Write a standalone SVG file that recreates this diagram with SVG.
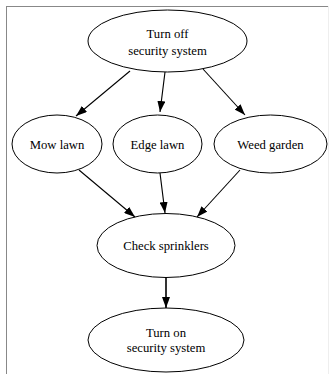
<svg xmlns="http://www.w3.org/2000/svg" width="329" height="374" viewBox="0 0 329 374">
<defs>
<style>
.node ellipse{fill:none;stroke:#000;stroke-width:1}
.node text{font-family:"Liberation Serif","Times New Roman",serif;font-size:12.7px;fill:#000;text-anchor:middle}
.edges line{stroke:#000;stroke-width:1.1}
</style>
<marker id="arr" viewBox="0 0 11 8" refX="11" refY="4" markerWidth="11" markerHeight="8" markerUnits="userSpaceOnUse" orient="auto">
<path d="M0,0 L11,4 L0,8 Z" fill="#000"/>
</marker>
</defs>
<rect width="329" height="374" fill="#fff"/>
<g id="frame" fill="none">
<line x1="6" y1="6.5" x2="329" y2="6.5" stroke="#888" stroke-width="1"/>
<line x1="6.5" y1="6" x2="6.5" y2="374" stroke="#888" stroke-width="1"/>
<line x1="328.5" y1="6" x2="328.5" y2="374" stroke="#eee" stroke-width="1"/>
</g>
<g class="edges" id="edges">
<line x1="130" y1="71" x2="76" y2="116" marker-end="url(#arr)"/>
<line x1="165" y1="72" x2="160" y2="112" marker-end="url(#arr)"/>
<line x1="203" y1="69" x2="245" y2="115" marker-end="url(#arr)"/>
<line x1="79" y1="170" x2="135" y2="217" marker-end="url(#arr)"/>
<line x1="160" y1="173" x2="165" y2="213" marker-end="url(#arr)"/>
<line x1="240" y1="170" x2="197" y2="217" marker-end="url(#arr)"/>
<line x1="166" y1="277" x2="166" y2="308" marker-end="url(#arr)" style="stroke-width:1.6"/>
</g>
<g class="node" id="turn_off">
<ellipse cx="167.5" cy="41" rx="79.5" ry="31"/>
<text x="167.5" y="37.5">Turn off</text>
<text x="167.5" y="55">security system</text>
</g>
<g class="node" id="mow">
<ellipse cx="57" cy="144" rx="45" ry="29"/>
<text x="57" y="148.5">Mow lawn</text>
</g>
<g class="node" id="edge">
<ellipse cx="157.5" cy="144" rx="44.5" ry="29"/>
<text x="157.5" y="148.5">Edge lawn</text>
</g>
<g class="node" id="weed">
<ellipse cx="270.5" cy="144" rx="56.5" ry="29"/>
<text x="270.5" y="148.5">Weed garden</text>
</g>
<g class="node" id="check">
<ellipse cx="166" cy="245.5" rx="69" ry="32"/>
<text x="166" y="250">Check sprinklers</text>
</g>
<g class="node" id="turn_on">
<ellipse cx="166" cy="340" rx="78" ry="32"/>
<text x="166" y="337">Turn on</text>
<text x="166" y="352">security system</text>
</g>
</svg>
